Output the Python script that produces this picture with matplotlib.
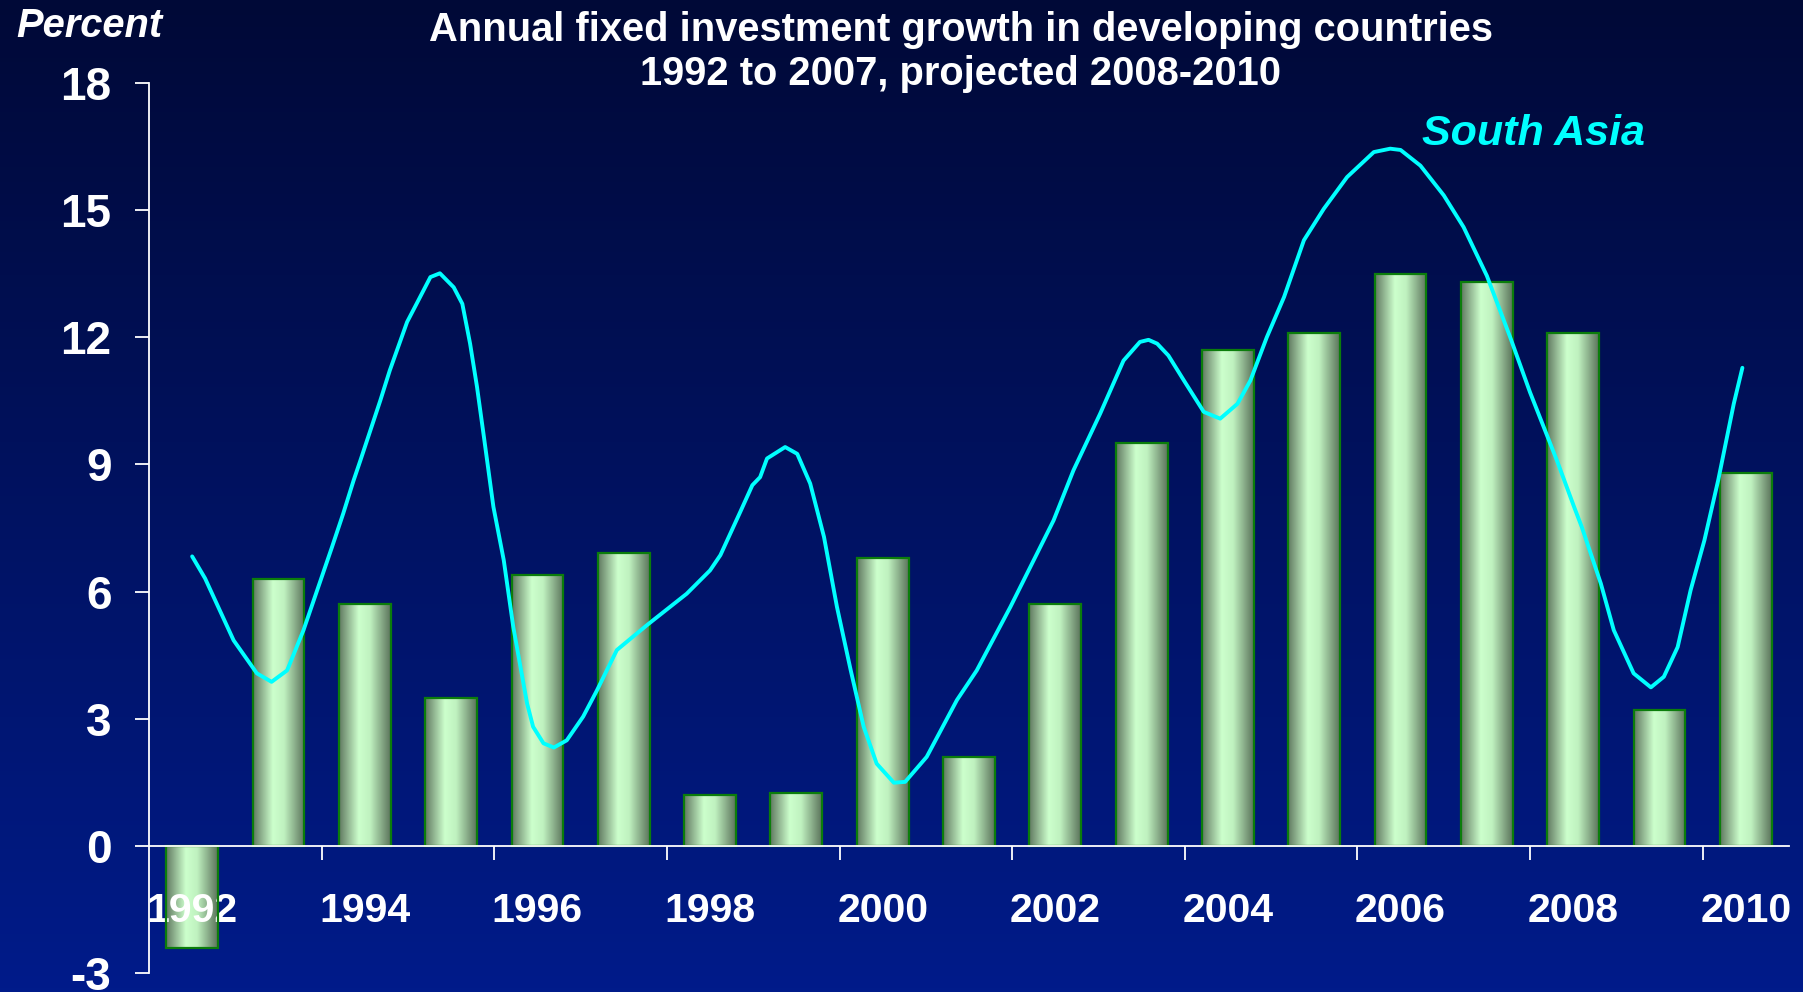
import numpy as np
import matplotlib.pyplot as plt
from matplotlib.colors import LinearSegmentedColormap

plt.rcParams['font.family'] = ['Liberation Sans', 'DejaVu Sans']

# Annual fixed investment growth, developing countries (percent)
years = list(range(1992, 2011))
growth = [-2.4, 6.3, 5.7, 3.5, 6.4, 6.9, 1.2, 1.25, 6.8, 2.1, 5.7, 9.5,
          11.7, 12.1, 13.5, 13.3, 12.1, 3.2, 8.8]
year_labels = [str(y) for y in years[::2]]
yticks = [-3, 0, 3, 6, 9, 12, 15, 18]

# South Asia curve (fractional years)
sa_time = [1992.00, 1992.15, 1992.48, 1992.75, 1992.92, 1993.10, 1993.29, 1993.62,
           1993.75, 1993.87, 1993.95, 1994.18, 1994.29, 1994.49, 1994.60, 1994.76,
           1994.87, 1995.03, 1995.13, 1995.22, 1995.30, 1995.38, 1995.49, 1995.61,
           1995.72, 1995.88, 1995.95, 1996.07, 1996.19, 1996.34, 1996.53, 1996.69,
           1996.92, 1997.27, 1997.73, 1998.00, 1998.12, 1998.35, 1998.49, 1998.58,
           1998.66, 1998.87, 1999.01, 1999.16, 1999.32, 1999.47, 1999.63, 1999.78,
           1999.93, 2000.13, 2000.26, 2000.51, 2000.86, 2001.09, 2001.48, 2001.98,
           2002.21, 2002.52, 2002.79, 2002.98, 2003.08, 2003.18, 2003.31, 2003.49,
           2003.72, 2003.91, 2004.11, 2004.26, 2004.45, 2004.65, 2004.88, 2005.11,
           2005.38, 2005.69, 2005.88, 2006.00, 2006.23, 2006.50, 2006.73, 2007.00,
           2007.27, 2007.50, 2007.81, 2008.01, 2008.10, 2008.32, 2008.47, 2008.70,
           2008.90, 2009.05, 2009.21, 2009.36, 2009.52, 2009.60, 2009.68, 2009.75,
           2009.86, 2009.96]
sa_value = [6.83, 6.31, 4.85, 4.07, 3.87, 4.14, 5.09, 7.05,
            7.84, 8.62, 9.10, 10.51, 11.22, 12.36, 12.79, 13.42,
            13.51, 13.18, 12.79, 11.85, 10.83, 9.65, 8.00, 6.74,
            5.17, 3.36, 2.81, 2.42, 2.32, 2.49, 3.05, 3.67,
            4.62, 5.21, 5.95, 6.50, 6.86, 7.88, 8.51, 8.70,
            9.14, 9.41, 9.25, 8.55, 7.29, 5.64, 4.14, 2.81,
            1.94, 1.49, 1.51, 2.10, 3.44, 4.14, 5.64, 7.68,
            8.86, 10.20, 11.45, 11.89, 11.94, 11.85, 11.57, 10.98,
            10.24, 10.08, 10.43, 10.98, 12.00, 12.95, 14.29, 15.03,
            15.78, 16.37, 16.45, 16.42, 16.05, 15.35, 14.60, 13.45,
            12.00, 10.70, 9.10, 8.00, 7.52, 6.19, 5.09, 4.07,
            3.74, 3.99, 4.69, 6.03, 7.21, 7.92, 8.63, 9.33,
            10.43, 11.28]

fig = plt.figure(figsize=(18.03, 9.92), dpi=100)

# navy background, darker at the top
bg = fig.add_axes([0, 0, 1, 1], zorder=-1)
bg_cmap = LinearSegmentedColormap.from_list('bg', ['#000937', '#001b8a'])
bg.imshow(np.linspace(0, 1, 256).reshape(-1, 1), cmap=bg_cmap, aspect='auto',
          extent=[0, 1, 0, 1], origin='upper')
bg.axis('off')

ax = fig.add_axes([149 / 1803, 19 / 992, 1640 / 1803, 890 / 992])
ax.set_facecolor('none')

x = np.arange(len(years))
bars = ax.bar(x, growth, width=0.6, facecolor='none', edgecolor='#0b7d0b',
              linewidth=1.6, zorder=2)

# cylinder-like shading inside each bar
bar_cmap = LinearSegmentedColormap.from_list(
    'bar', [(0, '#617961'), (0.38, '#ccffcc'), (0.6, '#c0f2c0'), (1, '#5b735b')])
shade = np.linspace(0, 1, 128).reshape(1, -1)
for b in bars:
    x0, y0, w, h = b.get_x(), b.get_y(), b.get_width(), b.get_height()
    im = ax.imshow(shade, cmap=bar_cmap, extent=[x0, x0 + w, y0, y0 + h],
                   aspect='auto', interpolation='bilinear', zorder=1.5)
    im.set_clip_path(b)

ax.plot(np.array(sa_time) - 1992, sa_value, color='#00ffff', lw=2.8,
        solid_joinstyle='round', solid_capstyle='round', zorder=4)

ax.set_xlim(-0.5, len(years) - 0.5)
ax.set_ylim(-3, 18)

for side in ['top', 'right']:
    ax.spines[side].set_visible(False)
ax.spines['left'].set_color('white')
ax.spines['left'].set_linewidth(1.3)
ax.spines['bottom'].set_position(('data', 0))
ax.spines['bottom'].set_color('white')
ax.spines['bottom'].set_linewidth(1.3)

ax.set_yticks(yticks)
ax.set_yticklabels([str(t) for t in yticks], fontweight='bold')
ax.tick_params(axis='y', colors='white', length=10, width=1.3, pad=17,
               labelsize=33)

ax.set_xticks(np.arange(1.5, len(years) - 1, 2))
ax.set_xticklabels([])
ax.set_xticks(x[::2], minor=True)
ax.set_xticklabels(year_labels, minor=True, fontweight='bold')
ax.tick_params(axis='x', which='major', colors='white', length=10, width=1.3)
ax.tick_params(axis='x', which='minor', length=0, pad=33, labelsize=29.5,
               labelcolor='white')

fig.text(961 / 1803, 1 - 41 / 992,
         'Annual fixed investment growth in developing countries',
         ha='center', va='baseline', fontsize=28.7, fontweight='bold', color='white')
fig.text(961 / 1803, 1 - 85 / 992, '1992 to 2007, projected 2008-2010',
         ha='center', va='baseline', fontsize=28.7, fontweight='bold', color='white')
fig.text(16 / 1803, 1 - 37 / 992, 'Percent', ha='left', va='baseline',
         fontsize=28.7, fontweight='bold', style='italic', color='white')
fig.text(1422 / 1803, 1 - 145 / 992, 'South Asia', ha='left', va='baseline',
         fontsize=31, fontweight='bold', style='italic', color='#00ffff')

fig.savefig('out.png', dpi=100)
